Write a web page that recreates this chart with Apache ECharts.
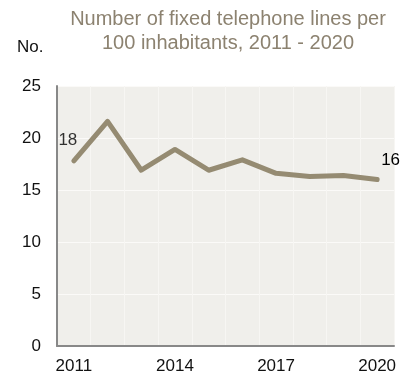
<!DOCTYPE html>
<html><head><meta charset="utf-8">
<script src="https://cdn.jsdelivr.net/npm/echarts@6/dist/echarts.min.js"></script>
<style>html,body{margin:0;padding:0;background:#fff}#c{width:401px;height:375px}</style>
</head><body><div id="c"></div>
<script>
const years = ['2011','2012','2013','2014','2015','2016','2017','2018','2019','2020'];
const lines = [17.8, 21.6, 16.9, 18.9, 16.9, 17.9, 16.6, 16.3, 16.4, 16.0];
const yTicks = [0, 5, 10, 15, 20, 25];
const titleText = 'Number of fixed telephone lines per\n100 inhabitants, 2011 - 2020';
const unitText = 'No.';

const chart = echarts.init(document.getElementById('c'), null, {renderer:'canvas'});
const font = '"Liberation Sans", Arial, sans-serif';
chart.setOption({
  animation: false,
  textStyle: {fontFamily: font},
  title: [{
    text: titleText, left: 223, top: 2, textAlign: 'center',
    textStyle: {fontFamily: font, fontSize: 20, fontWeight: 'normal', color: '#8c8270', lineHeight: 24}
  }, {
    text: unitText, left: 12, top: 34,
    textStyle: {fontFamily: font, fontSize: 17, fontWeight: 'normal', color: '#111'}
  }],
  grid: {left: 57, right: 7, top: 86, bottom: 29, show: true, backgroundColor: '#f0efeb', borderWidth: 0},
  xAxis: {
    type: 'category', data: years, boundaryGap: true,
    axisLine: {show: true, lineStyle: {color: '#888', width: 2}},
    axisTick: {show: false},
    axisLabel: {interval: 2, color: '#111', fontSize: 17, fontFamily: font, margin: 12},
    splitLine: {show: true, interval: 0, lineStyle: {color: '#f7f6f3', width: 1}}
  },
  yAxis: {
    type: 'value', min: yTicks[0], max: yTicks[yTicks.length-1], interval: 5,
    axisLine: {show: true, lineStyle: {color: '#888', width: 2}},
    axisTick: {show: false},
    axisLabel: {color: '#111', fontSize: 17, fontFamily: font, margin: 16},
    splitLine: {show: true, lineStyle: {color: '#fbfaf8', width: 1}}
  },
  series: [{
    type: 'line', data: lines,
    symbol: 'none',
    lineStyle: {color: '#958b72', width: 5, cap: 'round', join: 'round'},
    endLabel: {show: true, color: '#000', fontSize: 17, fontFamily: font, offset: [-4, -19],
      formatter: p => Math.round(p.value)}
  }, {
    type: 'scatter', data: lines.map((v, i) => i === 0 ? v : null),
    symbolSize: 0, silent: true,
    label: {show: true, position: 'top', offset: [-6, -7], color: '#000', fontSize: 17, fontFamily: font,
      formatter: p => Math.round(p.value)}
  }]
});
</script></body></html>
